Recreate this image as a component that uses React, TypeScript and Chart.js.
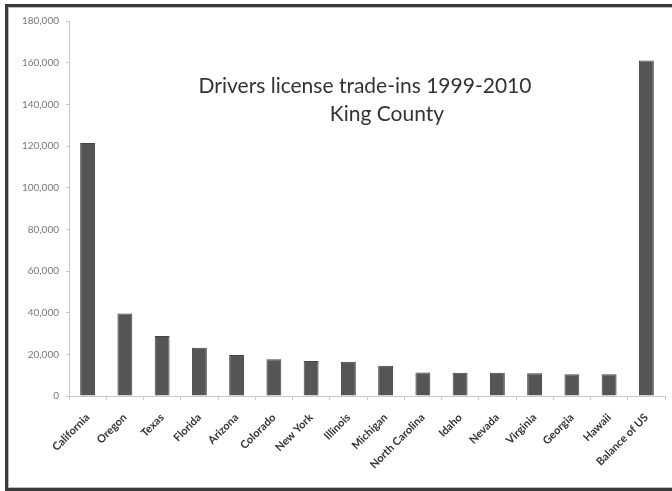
import React, { useEffect, useRef } from "react";
import { Chart, registerables } from "chart.js";

Chart.register(...registerables);

const categories = [
  "California", "Oregon", "Texas", "Florida", "Arizona", "Colorado", "New York",
  "Illinois", "Michigan", "North Carolina", "Idaho", "Nevada", "Virginia",
  "Georgia", "Hawaii", "Balance of US",
];
const tradeIns = [
  121400, 39600, 28800, 23200, 19700, 17600, 16800, 16400, 14500, 11300, 11200,
  11200, 10900, 10500, 10500, 161000,
];
const titleLines = ["Drivers license trade-ins 1999-2010", "King County"];
const yMax = 180000;
const yStep = 20000;

const titlePlugin = {
  id: "innerTitle",
  afterDraw(chart: any) {
    const ctx = chart.ctx;
    ctx.save();
    ctx.fillStyle = "#333";
    ctx.font = "21px Lato";
    ctx.textAlign = "center";
    ctx.textBaseline = "alphabetic";
    ctx.fillText(titleLines[0], 365, 93);
    ctx.fillText(titleLines[1], 387, 121);
    ctx.restore();
  },
};

export default function App() {
  const ref = useRef<HTMLCanvasElement>(null);
  useEffect(() => {
    if (!ref.current) return;
    const chart = new Chart(ref.current, {
      type: "bar",
      data: {
        labels: categories,
        datasets: [
          {
            data: tradeIns,
            backgroundColor: "#555555",
            borderColor: "#444444",
            borderWidth: 1,
            categoryPercentage: 1,
            barPercentage: 0.4,
          },
        ],
      },
      options: {
        responsive: false,
        animation: false,
        devicePixelRatio: 1,
        layout: { padding: { top: 21, right: 7, left: 0, bottom: 0 } },
        plugins: { legend: { display: false }, tooltip: { enabled: false }, title: { display: false } },
        scales: {
          x: {
            grid: {
              display: true,
              drawOnChartArea: false,
              drawTicks: true,
              tickLength: 4,
              color: "#c8c8c8",
              offset: true,
            },
            border: { color: "#c8c8c8" },
            ticks: {
              autoSkip: false,
              maxRotation: 45,
              minRotation: 45,
              padding: 11,
              color: "#333",
              font: { family: "Lato", size: 11, weight: "bold" },
            },
            afterFit(scale: any) {
              scale.height = 95;
            },
          },
          y: {
            min: 0,
            max: yMax,
            grid: {
              display: true,
              drawOnChartArea: false,
              drawTicks: true,
              tickLength: 3,
              color: "#c8c8c8",
            },
            border: { color: "#c8c8c8" },
            ticks: {
              stepSize: yStep,
              padding: 7,
              color: "#777",
              font: { family: "Lato", size: 10 },
              callback: (v: any) => Number(v).toLocaleString("en-US"),
            },
            afterFit(scale: any) {
              scale.width = 69;
            },
          },
        },
      },
      plugins: [titlePlugin],
    });
    return () => chart.destroy();
  }, []);

  return (
    <div
      style={{
        position: "fixed",
        left: 0,
        top: 0,
        width: 672,
        height: 491,
        overflow: "hidden",
        background: "#fff",
      }}
    >
      <div
        style={{
          position: "absolute",
          left: 5,
          top: 4,
          width: 700,
          height: 481,
          border: "3px solid #3a3a3a",
          boxShadow: "inset 1px 1px 0 #bbb, inset -1px -1px 0 #bbb",
        }}
      />
      <canvas
        ref={ref}
        width={672}
        height={491}
        style={{ position: "absolute", left: 0, top: 0, width: 672, height: 491 }}
      />
    </div>
  );
}
